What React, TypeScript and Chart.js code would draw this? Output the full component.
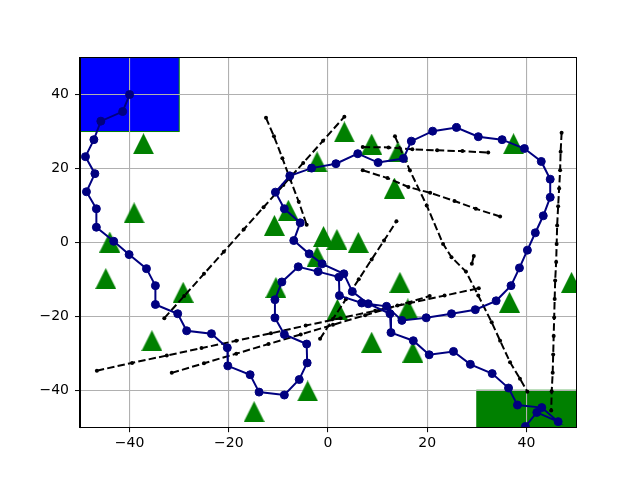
import React, { useEffect, useRef } from "react";
import { Chart, registerables } from "chart.js";

Chart.register(...registerables);

type P = [number, number];

// axis ticks
const xTicks = [-40, -20, 0, 20, 40];
const yTicks = [-40, -20, 0, 20, 40];

// start / goal regions [x0, y0, x1, y1]
const startRegion = [-50, 30, -30, 50];
const goalRegion = [30, -50, 50, -40];

// navy path
const pathPoints: P[] = [
  [-40, 40], [-41.4, 35.4], [-45.8, 32.8], [-47.2, 27.8], [-48.9, 23.2], [-47.0, 18.6],
  [-48.7, 13.7], [-46.7, 9.1], [-46.7, 4.1], [-43.2, 0.3], [-40.1, -3.3], [-36.6, -7.1],
  [-34.8, -11.7], [-34.8, -16.8], [-30.3, -19.3], [-28.5, -23.9], [-23.5, -24.7], [-20.3, -28.5],
  [-20.2, -33.4], [-15.7, -35.8], [-13.9, -40.5], [-8.8, -41.3], [-5.8, -37.1], [-4.2, -32.6],
  [-4.3, -27.5], [-8.8, -24.9], [-10.7, -20.4], [-10.7, -15.5], [-9.3, -10.7], [-6.0, -6.6],
  [-2.0, -7.9], [2.2, -9.4], [2.3, -14.4], [6.8, -16.4], [11.8, -17.3], [14.9, -21.1],
  [19.8, -20.4], [24.9, -19.3], [29.7, -18.2], [33.9, -15.8], [36.9, -11.7], [38.6, -6.9],
  [40.2, -2.1], [41.8, 2.6], [43.4, 7.2], [44.8, 12.2], [44.8, 17.1], [43.0, 21.9],
  [39.6, 25.4], [35.1, 27.8], [30.3, 28.6], [25.9, 31.1], [21.1, 30.1], [16.8, 27.4],
  [15.2, 22.7], [10.1, 21.6], [6.0, 24.0], [1.6, 21.3], [-3.3, 20.1], [-7.7, 18.0],
  [-10.6, 13.6], [-8.8, 9.1], [-5.6, 5.3], [-6.9, 0.5], [-3.8, -3.1], [-1.2, -5.8],
  [3.2, -8.5], [4.9, -13.3], [8.1, -16.6], [12.5, -19.3], [12.7, -24.4], [17.2, -26.6],
  [20.4, -30.4], [25.3, -29.5], [28.7, -33.0], [33.1, -35.5], [36.4, -39.4], [38.2, -44.0],
  [43.1, -44.7], [46.4, -48.5], [42.1, -46.0], [39.8, -49.8],
];

// obstacles (green triangles)
const obstacles: P[] = [
  [-37.2, 26.7], [-39.1, 8.0], [-44.0, 0.1], [-44.8, -9.8], [-29.2, -13.5], [-35.5, -26.6],
  [-14.9, -45.8], [-4.1, -40.2], [-10.5, -12.2], [-10.8, 4.6], [-8.0, 8.7], [-2.2, 21.8],
  [-0.9, 1.6], [1.8, 0.8], [6.1, 0.0], [-2.2, -3.8], [1.9, -18.1], [14.5, -10.8],
  [3.3, 29.9], [8.8, 26.6], [14.1, 24.5], [13.4, 14.7], [37.4, 26.7], [16.1, -18.0],
  [8.8, -27.0], [17.1, -29.7], [36.6, -16.2], [49.1, -10.8],
];

// dashed tracks
const track1: P[] = [[-12.5, 33.7], [-10.9, 28.7], [-9.2, 22.8], [-7.6, 17.0], [-5.9, 11.0], [-4.3, 4.8]];
const track2: P[] = [
  [-33.0, -20.5], [-29.0, -14.5], [-25.0, -8.5], [-21.0, -2.5], [-17.0, 3.5],
  [-13.0, 9.5], [-9.0, 15.5], [-5.0, 21.5], [-1.0, 27.5], [3.3, 34.0],
];
const track3: P[] = [[7.0, 25.8], [12.2, 25.7], [17.0, 25.2], [22.0, 24.9], [27.1, 24.7], [32.3, 24.3]];
const track4: P[] = [[7.0, 19.5], [12.0, 17.4], [16.2, 15.0], [20.6, 13.4], [25.5, 11.2], [29.8, 9.1], [34.7, 7.0]];
const track5: P[] = [
  [13.5, 28.7], [16.5, 19.5], [19.9, 10.0], [23.2, -0.4], [24.9, -4.0], [27.8, -7.9],
  [30.3, -14.4], [33.0, -21.6], [34.7, -26.6], [36.7, -32.4], [38.7, -36.9], [40.2, -40.4],
];
const track6: P[] = [[29.4, -3.7], [29.0, -5.8]];
const track7: P[] = [
  [47.1, 29.7], [46.9, 24.5], [46.8, 19.5], [46.6, 14.6], [46.4, 9.8], [46.2, 4.6],
  [46.1, -0.4], [46.0, -5.3], [45.8, -10.3], [45.7, -15.3], [45.6, -20.3], [45.5, -25.3],
  [45.4, -30.3], [45.3, -35.3], [45.1, -40.3], [45.0, -45.5],
];
const track8: P[] = [
  [-46.6, -34.7], [-39.5, -32.6], [-32.5, -30.6], [-25.5, -28.6], [-18.5, -26.6], [-11.5, -24.6],
  [-4.5, -22.5], [2.5, -20.5], [9.5, -18.5], [16.5, -16.4], [23.5, -14.4], [30.4, -12.4],
];
const track9: P[] = [
  [-31.5, -35.3], [-25.0, -32.7], [-18.5, -30.1], [-12.0, -27.5], [-5.5, -24.9],
  [1.0, -22.3], [7.5, -19.7], [14.0, -17.1], [20.5, -14.5],
];
const track10: P[] = [[-1.6, -26.1], [1.0, -20.7], [3.6, -15.4], [6.2, -10.0], [8.8, -4.6], [11.3, 0.5], [13.8, 5.7]];

const tracks = [track1, track2, track3, track4, track5, track6, track7, track8, track9, track10];

const toXY = (pts: P[]) => pts.map(([x, y]) => ({ x, y }));
const fmt = (v: number) => (v < 0 ? "\u2212" + Math.abs(v) : String(v));

export default function App() {
  const ref = useRef<HTMLCanvasElement | null>(null);

  useEffect(() => {
    if (!ref.current) return;

    const tri = document.createElement("canvas");
    tri.width = 21;
    tri.height = 21;
    const tctx = tri.getContext("2d")!;
    tctx.fillStyle = "#008000";
    tctx.beginPath();
    tctx.moveTo(10.5, 0);
    tctx.lineTo(21, 21);
    tctx.lineTo(0, 21);
    tctx.closePath();
    tctx.fill();

    const regionsPlugin = {
      id: "regions",
      beforeDraw(chart: any) {
        const { ctx, scales } = chart;
        const xs = scales.x, ys = scales.y;
        const draw = (r: number[], fill: string) => {
          const x0 = xs.getPixelForValue(r[0]);
          const x1 = xs.getPixelForValue(r[2]);
          const y0 = ys.getPixelForValue(r[3]);
          const y1 = ys.getPixelForValue(r[1]);
          ctx.save();
          ctx.fillStyle = fill;
          ctx.fillRect(x0, y0, x1 - x0, y1 - y0);
          ctx.strokeStyle = "#008000";
          ctx.lineWidth = 1;
          ctx.strokeRect(x0, y0, x1 - x0, y1 - y0);
          ctx.restore();
        };
        draw(startRegion, "#0000ff");
        draw(goalRegion, "#008000");
      },
    };

    const framePlugin = {
      id: "frame",
      afterDatasetsDraw(chart: any) {
        const { ctx, chartArea: a } = chart;
        ctx.save();
        ctx.strokeStyle = "#000";
        ctx.lineWidth = 1;
        ctx.strokeRect(Math.round(a.left) - 0.5, Math.round(a.top) - 0.5, Math.round(a.right - a.left) + 1, Math.round(a.bottom - a.top));
        ctx.restore();
      },
    };

    const datasets: any[] = [
      {
        data: toXY(pathPoints),
        showLine: true,
        borderColor: "#000080",
        backgroundColor: "#000080",
        borderWidth: 2,
        pointRadius: 4,
        pointBorderWidth: 1,
        pointBackgroundColor: "#000080",
        pointBorderColor: "#000080",
        order: 0,
        clip: 0,
      },
      ...tracks.map((t) => ({
        data: toXY(t),
        showLine: true,
        borderColor: "#000",
        backgroundColor: "#000",
        borderWidth: 2,
        borderDash: [7.4, 3.2],
        pointRadius: 2,
        pointBorderWidth: 0,
        pointBackgroundColor: "#000",
        order: 1,
        clip: 0,
      })),
      {
        data: toXY(obstacles),
        showLine: false,
        pointStyle: tri,
        pointRadius: 10,
        order: 2,
        clip: 0,
      },
    ];

    const font = { family: "'DejaVu Sans', sans-serif", size: 14 };

    const chart = new Chart(ref.current, {
      type: "scatter",
      data: { datasets },
      options: {
        animation: false,
        responsive: false,
        devicePixelRatio: 1,
        layout: { padding: { left: 0, right: 64, top: 57.6, bottom: 0 } },
        plugins: { legend: { display: false }, tooltip: { enabled: false } },
        events: [],
        scales: {
          x: {
            type: "linear",
            min: -50,
            max: 50,
            afterBuildTicks: (s: any) => {
              s.ticks = xTicks.map((v) => ({ value: v }));
            },
            afterFit: (s: any) => {
              s.height = 52.8;
            },
            ticks: { color: "#000", font, padding: 3, maxRotation: 0, callback: (v: any) => fmt(Number(v)) },
            grid: { color: "#b0b0b0", lineWidth: 1.1, tickColor: "#000", tickLength: 5, tickWidth: 1 },
            border: { color: "#000", width: 1 },
          },
          y: {
            type: "linear",
            min: -50,
            max: 50,
            afterBuildTicks: (s: any) => {
              s.ticks = yTicks.map((v) => ({ value: v }));
            },
            afterFit: (s: any) => {
              s.width = 80;
            },
            ticks: { color: "#000", font, padding: 6, callback: (v: any) => fmt(Number(v)) },
            grid: { color: "#b0b0b0", lineWidth: 1.1, tickColor: "#000", tickLength: 5, tickWidth: 1 },
            border: { color: "#000", width: 1 },
          },
        },
      },
      plugins: [regionsPlugin, framePlugin],
    });

    return () => chart.destroy();
  }, []);

  return (
    <div style={{ position: "absolute", left: 0, top: 0, width: 640, height: 480, background: "#fff" }}>
      <canvas ref={ref} width={640} height={480} style={{ display: "block" }} />
    </div>
  );
}
